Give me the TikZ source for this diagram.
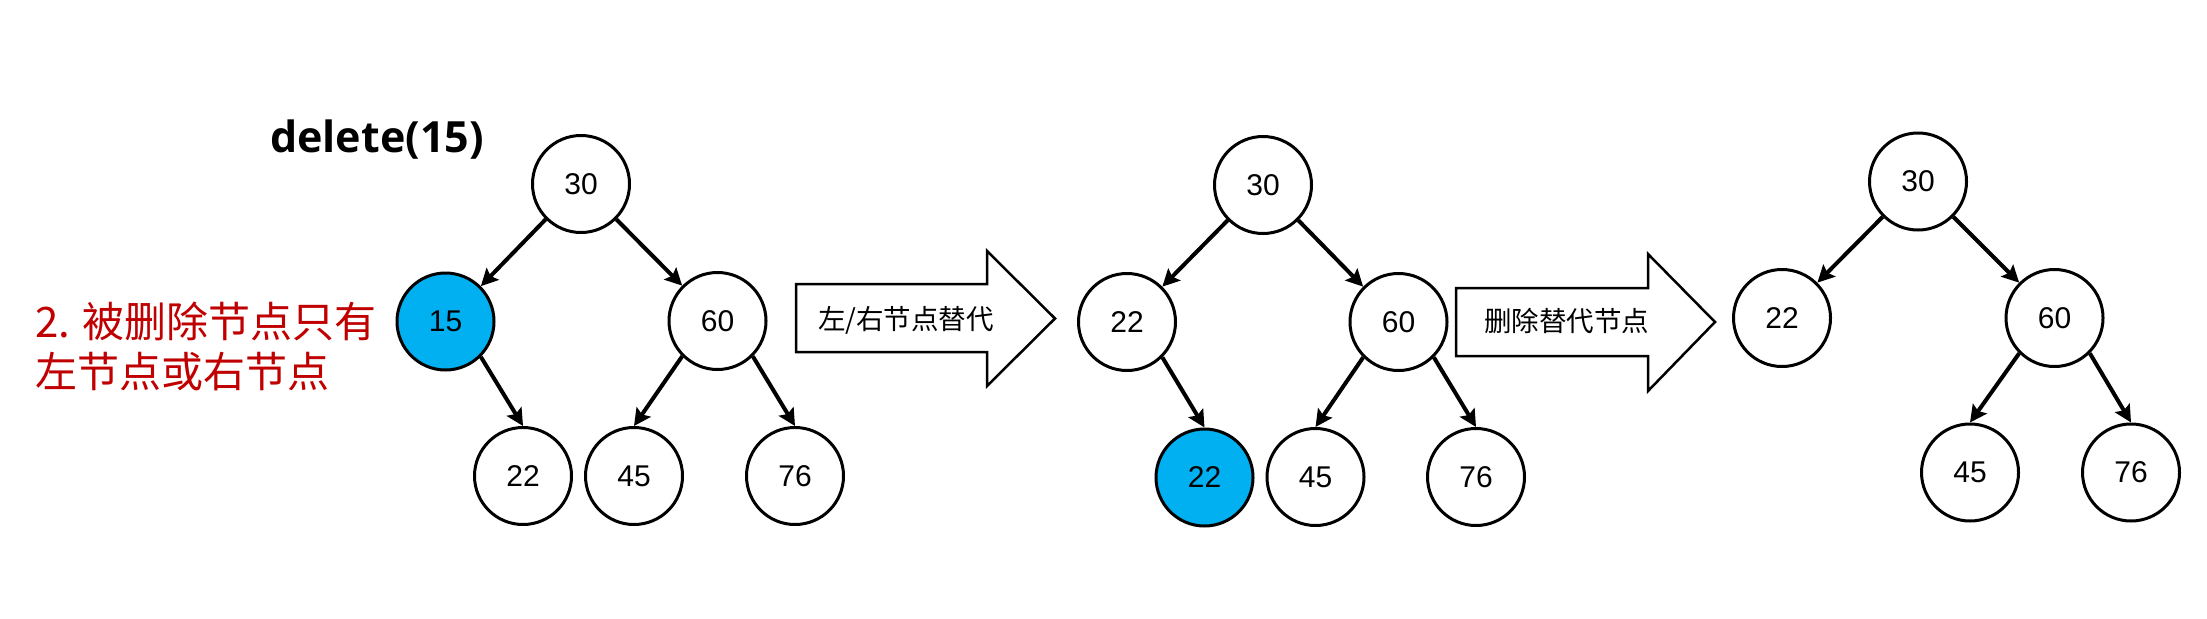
\documentclass[tikz,border=0pt]{standalone}
\usepackage{fontspec}
\setmainfont{Liberation Sans}
\newfontfamily\cjkfont{Noto Sans CJK SC}
\newfontfamily\titlefont{Open Sans}
\usetikzlibrary{arrows.meta}
\definecolor{nodeblue}{RGB}{0,176,240}
\definecolor{notered}{RGB}{192,0,0}
\tikzset{
  tnode/.style={circle, draw, line width=3pt, minimum size=97pt, inner sep=0pt, fill=white, font=\fontsize{30}{30}\selectfont},
  hl/.style={fill=nodeblue},
  edge/.style={line width=4pt, -{Stealth[length=17pt,width=17pt,inset=3pt]}},
  blockarrow/.style={draw, line width=2.5pt, fill=white, line join=miter},
  arrowtext/.style={font=\cjkfont\fontsize{27.5}{27.5}\selectfont, anchor=base west, inner sep=0pt},
  redtext/.style={font=\cjkfont\fontsize{42}{42}\selectfont, text=notered, anchor=base west, inner sep=0pt},
}
\begin{document}
\begin{tikzpicture}[x=1pt,y=-1pt]
\useasboundingbox[fill=white] (0,0) rectangle (2207,618);

% title and note
\node[font=\titlefont\bfseries\fontsize{43}{43}\selectfont, anchor=base west, inner sep=0pt] (title) at (270,152) {delete(15)};
\node[redtext] (noteA) at (35,337) {2. 被删除节点只有};
\node[redtext] (noteB) at (35,387) {左节点或右节点};

% tree 1
\node[tnode] (t1a) at (581,184) {30};
\node[tnode,hl] (t1b) at (445.5,321.5) {15};
\node[tnode] (t1c) at (717.5,321) {60};
\node[tnode] (t1d) at (523,476) {22};
\node[tnode] (t1e) at (634,476) {45};
\node[tnode] (t1f) at (795,476) {76};
\draw[edge] (t1a.-135) -- (t1b.45);
\draw[edge] (t1a.-45) -- (t1c.135);
\draw[edge] (t1b.-45) -- (t1d.north);
\draw[edge] (t1c.-135) -- (t1e.north);
\draw[edge] (t1c.-45) -- (t1f.north);

% block arrow 1
\draw[blockarrow] (796,284) -- (987,284) -- (987,251) -- (1055,318.5) -- (987,386) -- (987,352) -- (796,352) -- cycle;
\node[arrowtext] (arr1) at (818,329) {左/右节点替代};

% tree 2
\node[tnode] (t2a) at (1263,185) {30};
\node[tnode] (t2b) at (1127,322) {22};
\node[tnode] (t2c) at (1398.5,322) {60};
\node[tnode,hl] (t2d) at (1204.5,477.5) {22};
\node[tnode] (t2e) at (1315.5,477) {45};
\node[tnode] (t2f) at (1476,477) {76};
\draw[edge] (t2a.-135) -- (t2b.45);
\draw[edge] (t2a.-45) -- (t2c.135);
\draw[edge] (t2b.-45) -- (t2d.north);
\draw[edge] (t2c.-135) -- (t2e.north);
\draw[edge] (t2c.-45) -- (t2f.north);

% block arrow 2
\draw[blockarrow] (1456,288) -- (1648,288) -- (1648,254) -- (1715,322) -- (1648,391) -- (1648,356) -- (1456,356) -- cycle;
\node[arrowtext] (arr2) at (1484,331) {删除替代节点};

% tree 3
\node[tnode] (t3a) at (1918,181.5) {30};
\node[tnode] (t3b) at (1782,318) {22};
\node[tnode] (t3c) at (2054.5,318) {60};
\node[tnode] (t3e) at (1970,472.5) {45};
\node[tnode] (t3f) at (2131,472.5) {76};
\draw[edge] (t3a.-135) -- (t3b.45);
\draw[edge] (t3a.-45) -- (t3c.135);
\draw[edge] (t3c.-135) -- (t3e.north);
\draw[edge] (t3c.-45) -- (t3f.north);
\end{tikzpicture}
\end{document}
